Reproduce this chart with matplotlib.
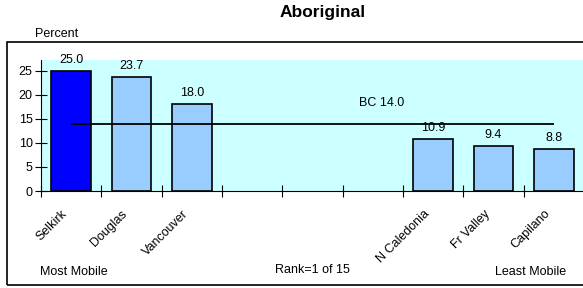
import matplotlib
matplotlib.use("Agg")
import matplotlib.pyplot as plt
import matplotlib.patches as mp
import matplotlib.transforms as mt
import numpy as np

plt.rcParams["font.family"] = ["Liberation Sans", "DejaVu Sans"]

# data
regions = ["Selkirk", "Douglas", "Vancouver", "", "", "", "N Caledonia", "Fr Valley", "Capilano"]
values = [25.0, 23.7, 18.0, None, None, None, 10.9, 9.4, 8.8]
bc_value = 14.0
yticks = [0, 5, 10, 15, 20, 25]

fig = plt.figure(figsize=(5.83, 2.88), dpi=100)
ax = fig.add_axes([41/583, 97/288, 543/583, 131/288])
ax.set_facecolor("#CCFFFF")

x = np.arange(len(regions))
for i, v in enumerate(values):
    if v is None:
        continue
    fc = "#0000FF" if i == 0 else "#99CCFF"
    ax.bar(i, v, width=0.66, color=fc, edgecolor="black", linewidth=1.2, zorder=2)
    ax.annotate(f"{v:.1f}", (i, v), xytext=(0, 3.5), textcoords="offset points",
                ha="center", va="bottom", fontsize=9, zorder=4)

ax.hlines(bc_value, 0, len(regions) - 1, color="black", lw=1.3, zorder=3)
ax.text(5.15, bc_value + 4.3, f"BC {bc_value:.1f}", ha="center", va="center", fontsize=9)

ax.set_xlim(-0.5, len(regions) - 0.5)
ax.set_ylim(0, 27.2)
ax.set_yticks(yticks)
ax.tick_params(axis="y", direction="inout", length=8, labelsize=9, pad=2)

ax.set_xticks(np.arange(len(regions) + 1) - 0.5)
ax.set_xticklabels([])
ax.tick_params(axis="x", which="major", direction="inout", length=8)
ax.set_xticks(x, minor=True)
ax.set_xticklabels(regions, minor=True, rotation=45, ha="right", va="top",
                   rotation_mode="anchor", fontsize=9)
ax.tick_params(axis="x", which="minor", length=0, pad=12)
shift = mt.ScaledTranslation(-10/100, 0, fig.dpi_scale_trans)
for lab in ax.get_xticklabels(minor=True):
    lab.set_transform(lab.get_transform() + shift)

for s in ["top", "right"]:
    ax.spines[s].set_visible(False)

# outer frame and texts
fig.patches.append(mp.Rectangle((7/583, 3/288), 1.0, 243/288, transform=fig.transFigure,
                                fill=False, ec="black", lw=1.2))
fig.text(323/583, 1 - 13/288, "Aboriginal", ha="center", va="center", fontsize=12.5, fontweight="bold")
fig.text(35/583, 1 - 34/288, "Percent", ha="left", va="center", fontsize=9)
fig.text(40/583, 1 - 272/288, "Most Mobile", ha="left", va="center", fontsize=9)
fig.text(312/583, 1 - 270/288, "Rank=1 of 15", ha="center", va="center", fontsize=9)
fig.text(566/583, 1 - 272/288, "Least Mobile", ha="right", va="center", fontsize=9)

fig.savefig("out.png", dpi=100, facecolor="white")
